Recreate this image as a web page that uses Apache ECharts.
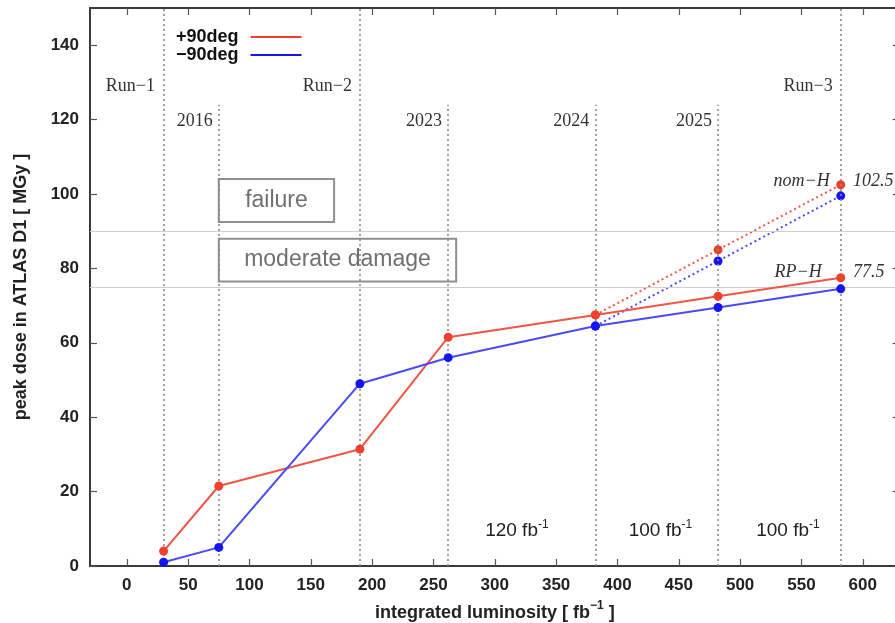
<!DOCTYPE html>
<html>
<head>
<meta charset="utf-8">
<script src="https://cdn.jsdelivr.net/npm/echarts@6/dist/echarts.min.js"></script>
<style>
  html, body { margin: 0; padding: 0; background: #fff; }
  #chart { width: 895px; height: 623px; }
</style>
</head>
<body>
<div id="chart"></div>
<script>
// Integrated luminosity at the end of each period [fb^-1]
const luminosity = [30, 75, 190, 262, 382, 482, 582];
// Peak dose in ATLAS D1 [MGy], RP-H scenario
const plus90 = [4, 21.5, 31.4, 61.5, 67.5, 72.5, 77.5];
const minus90 = [1, 5, 49, 56, 64.5, 69.5, 74.5];
// nom-H scenario from 2024 on
const nomLuminosity = [382, 482, 582];
const plus90Nom = [67.5, 85, 102.5];
const minus90Nom = [64.5, 82, 99.5];

// Period boundaries
const runBoundaries = [30, 190, 582];
const yearBoundaries = [75, 262, 382, 482];
const runNames = ['Run−1', 'Run−2', 'Run−3'];
const yearNames = ['2016', '2023', '2024', '2025'];
const periodLumis = ['120', '100', '100'];

// Damage thresholds [MGy]
const failureLevel = 90;
const damageLevel = 75;

const xTicks = [0, 50, 100, 150, 200, 250, 300, 350, 400, 450, 500, 550, 600];
const yTicks = [0, 20, 40, 60, 80, 100, 120, 140];

const RED = '#f0402c', RED_LINE = '#f25545';
const BLUE = '#1414f5', BLUE_LINE = '#4a4af8';
const SANS = 'Liberation Sans, Arial, Helvetica, sans-serif';
const SERIF = 'Liberation Serif, Times New Roman, serif';

const zip = (xs, ys) => xs.map((x, i) => [x, ys[i]]);

function frameAxis(kind, pos, showLabels, ticks) {
  const ax = {
    type: 'value',
    position: pos,
    axisLine: { show: true, onZero: false, lineStyle: { color: '#3a3a3a', width: 2 } },
    axisTick: { show: true, inside: true, length: 7, customValues: ticks,
                lineStyle: { color: '#555', width: 1.2 } },
    axisLabel: { show: showLabels, customValues: ticks, fontFamily: SANS, fontWeight: 'bold',
                 fontSize: 17, color: '#222', margin: 11 },
    splitLine: { show: false }
  };
  if (kind === 'x') { ax.min = -30; ax.max = 630; }
  else { ax.min = 0; ax.max = 150; }
  return ax;
}

const xBottom = frameAxis('x', 'bottom', true, xTicks);
xBottom.name = '{a|integrated luminosity [ fb}{s|−1}{a| ]}';
xBottom.nameLocation = 'middle';
xBottom.nameGap = 34;
xBottom.nameTextStyle = {
  rich: {
    a: { fontFamily: SANS, fontWeight: 'bold', fontSize: 18, color: '#222', lineHeight: 22, verticalAlign: 'bottom' },
    s: { fontFamily: SANS, fontWeight: 'bold', fontSize: 12, color: '#222', lineHeight: 12, verticalAlign: 'top' }
  }
};
const yLeft = frameAxis('y', 'left', true, yTicks);
yLeft.name = 'peak dose in ATLAS D1 [ MGy ]';
yLeft.nameLocation = 'middle';
yLeft.nameGap = 60;
yLeft.nameTextStyle = { fontFamily: SANS, fontWeight: 'bold', fontSize: 18, color: '#222' };

const vLine = (x, top) => [{ coord: [x, 0] }, { coord: [x, top] }];

const fbLabel = (v) => '{a|' + v + ' fb}{s|-1}';
const lumiRich = {
  a: { fontFamily: SANS, fontSize: 19, color: '#222', lineHeight: 22, verticalAlign: 'bottom' },
  s: { fontFamily: SANS, fontSize: 12, color: '#222', lineHeight: 12, verticalAlign: 'top' }
};

function textPoint(coord, text, align, opts) {
  return {
    coord: coord,
    symbolSize: 0,
    label: Object.assign({
      show: true, position: [0, 0], formatter: text, align: align, verticalAlign: 'middle',
      fontFamily: SERIF, fontSize: 18, color: '#333'
    }, opts || {})
  };
}

const chart = echarts.init(document.getElementById('chart'));
chart.setOption({
  animation: false,
  backgroundColor: '#fff',
  grid: { left: 90, top: 8, width: 809.6, bottom: 57, containLabel: false, outerBoundsMode: 'none' },
  xAxis: [xBottom, frameAxis('x', 'top', false, xTicks)],
  yAxis: [yLeft, frameAxis('y', 'right', false, yTicks)],
  legend: {
    data: ['+90deg', '−90deg'],
    orient: 'vertical',
    left: 171,
    top: 23,
    align: 'right',
    itemGap: 0,
    itemWidth: 51,
    itemHeight: 2,
    icon: 'rect',
    selectedMode: false,
    textStyle: { fontFamily: SANS, fontWeight: 'bold', fontSize: 18, color: '#111',
                 lineHeight: 18, padding: [0, 7, 0, 0] }
  },
  series: [
    {
      // period boundaries, boxes and text annotations
      type: 'scatter', data: [], silent: true, z: 1,
      markLine: {
        silent: true, symbol: 'none', label: { show: false },
        data: [
          ...runBoundaries.map(x => vLine(x, 150)),
          ...yearBoundaries.map(x => vLine(x, 124))
        ],
        lineStyle: { color: '#8a8a8a', type: [2, 3], width: 1.6 }
      },
      markArea: {
        silent: true,
        itemStyle: { color: 'rgba(0,0,0,0)', borderColor: '#8f8f8f', borderWidth: 2 },
        label: { show: true, position: 'inside', fontFamily: SANS, fontSize: 23, color: '#707070' },
        data: [
          [{ name: 'failure', coord: [75, 92.5] }, { coord: [169, 104] }],
          [{ name: 'moderate damage', coord: [75, 76.5] }, { coord: [268.5, 88] }]
        ]
      },
      markPoint: {
        silent: true,
        symbol: 'circle',
        data: [
          textPoint([23, 129], runNames[0], 'right'),
          textPoint([183.5, 129], runNames[1], 'right'),
          textPoint([575.5, 129], runNames[2], 'right'),
          textPoint([70, 119.5], yearNames[0], 'right'),
          textPoint([257, 119.5], yearNames[1], 'right'),
          textPoint([377, 119.5], yearNames[2], 'right'),
          textPoint([477, 119.5], yearNames[3], 'right'),
          textPoint([573, 103.4], 'nom−H', 'right', { fontStyle: 'italic' }),
          textPoint([592, 103.4], '102.5', 'left', { fontStyle: 'italic' }),
          textPoint([566.5, 79], 'RP−H', 'right', { fontStyle: 'italic' }),
          textPoint([592, 79], '77.5', 'left', { fontStyle: 'italic' }),
          textPoint([318, 9.8], fbLabel(periodLumis[0]), 'center', { rich: lumiRich }),
          textPoint([435, 9.8], fbLabel(periodLumis[1]), 'center', { rich: lumiRich }),
          textPoint([539, 9.8], fbLabel(periodLumis[2]), 'center', { rich: lumiRich })
        ]
      }
    },
    {
      // horizontal threshold lines
      type: 'scatter', data: [], silent: true, z: 1,
      markLine: {
        silent: true, symbol: 'none', label: { show: false },
        lineStyle: { color: '#d0d0d0', type: 'solid', width: 1.2 },
        data: [{ yAxis: failureLevel }, { yAxis: damageLevel }]
      }
    },
    {
      name: '+90deg', type: 'line', data: zip(luminosity, plus90), z: 5,
      symbol: 'circle', symbolSize: 9,
      lineStyle: { color: RED_LINE, width: 2 }, itemStyle: { color: RED }
    },
    {
      name: '−90deg', type: 'line', data: zip(luminosity, minus90), z: 5,
      symbol: 'circle', symbolSize: 9,
      lineStyle: { color: BLUE_LINE, width: 2 }, itemStyle: { color: BLUE }
    },
    {
      name: '+90deg', type: 'line', data: zip(nomLuminosity, plus90Nom), z: 4,
      symbol: 'circle', symbolSize: 9,
      lineStyle: { color: RED_LINE, width: 2, type: [2, 3] }, itemStyle: { color: RED }
    },
    {
      name: '−90deg', type: 'line', data: zip(nomLuminosity, minus90Nom), z: 4,
      symbol: 'circle', symbolSize: 9,
      lineStyle: { color: BLUE_LINE, width: 2, type: [2, 3] }, itemStyle: { color: BLUE }
    }
  ]
});
</script>
</body>
</html>
